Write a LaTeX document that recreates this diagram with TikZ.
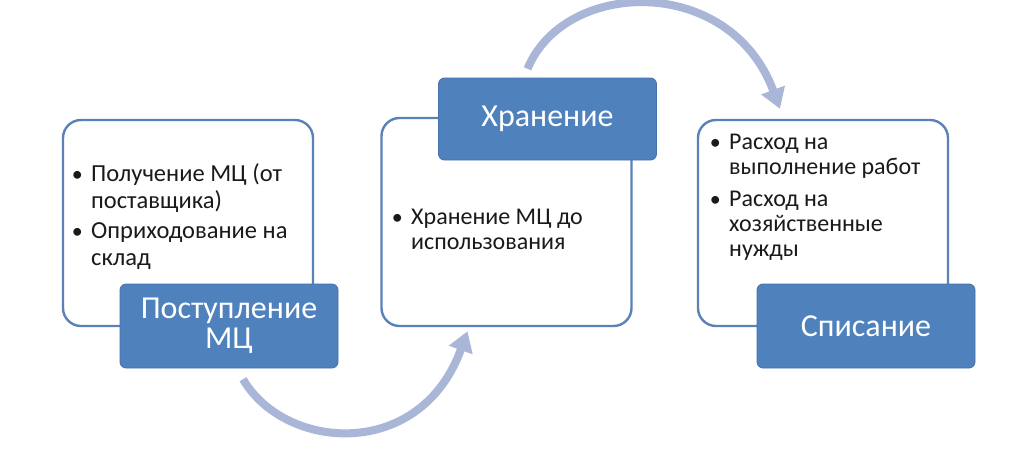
\documentclass[tikz,border=0pt]{standalone}
\usepackage{fontspec}
\setmainfont{Carlito}
\usetikzlibrary{arrows.meta,calc}
\definecolor{accent}{HTML}{4F81BD}
\definecolor{accentdark}{HTML}{4672AA}
\definecolor{framec}{HTML}{5B82B8}
\definecolor{flowc}{HTML}{A9B6D8}
\definecolor{ink}{HTML}{1A1A1A}
\begin{document}
\begin{tikzpicture}[x=1pt,y=-1pt,
  panel/.style={draw=framec, line width=2.4pt, fill=white, rounded corners=18pt,
    inner sep=0pt, minimum width=250pt, minimum height=206pt},
  tag/.style={draw=accentdark, line width=0.8pt, fill=accent, rounded corners=6pt,
    inner sep=0pt, minimum width=218pt, minimum height=84pt, text=white,
    align=center, font=\fontsize{32}{30}\selectfont},
  line/.style={anchor=base west, inner sep=0pt, text=ink, font=\fontsize{24.5}{27}\selectfont},
  sline/.style={anchor=base west, inner sep=0pt, text=ink, font=\fontsize{24}{25}\selectfont},
  bul/.style={anchor=base east, inner sep=0pt, text=ink, font=\fontsize{22}{25}\selectfont},
  flow/.style={draw=flowc, line width=8pt, -{Triangle[width=24pt,length=20pt]}}
]
\useasboundingbox (0,0) rectangle (1020,448);
\fill[white] (0,0) rectangle (1020,448);

% panels
\node[panel] (p1) at (188,223) {};
\node[panel, minimum height=208pt] (p2) at (506.5,222) {};
\node[panel] (p3) at (823,223) {};

% connectors
\coordinate (a1s) at ($(p1.south)+(55,52)$);
\coordinate (a1e) at ($(p2.south)+(-39,4)$);
\coordinate (a2s) at ($(p2.north)+(21,-48)$);
\coordinate (a2e) at ($(p3.north)+(-43,-10)$);
\draw[flow] (a1s) .. controls ($(a1s)+(42,72)$) and ($(a1e)+(-47,130)$) .. (a1e);
\draw[flow] (a2s) .. controls ($(a2s)+(37,-90)$) and ($(a2e)+(-50,-135)$) .. (a2e);

% tags
\node[tag] (g1) at (229,326) {Поступление\\МЦ};
\node[tag, minimum height=82pt] (g2) at (547.5,119) {Хранение};
\node[tag] (g3) at (866,326) {Списание};

% panel 1 text
\node[line] (t1a) at (91,181) {Получение МЦ (от};
\node[line] (t1b) at (91,208) {поставщика)};
\node[line] (t1c) at (91,238) {Оприходование на};
\node[line] (t1d) at (91,265) {склад};
\node[bul] (b1a) at ($(t1a.base west)+(-8,0)$) {•};
\node[bul] (b1b) at ($(t1c.base west)+(-8,0)$) {•};

% panel 2 text
\node[sline] (t2a) at (411,224) {Хранение МЦ до};
\node[sline] (t2b) at (411,249) {использования};
\node[bul] (b2a) at ($(t2a.base west)+(-8,0)$) {•};

% panel 3 text
\node[sline] (t3a) at (729,149) {Расход на};
\node[sline] (t3b) at (729,174) {выполнение работ};
\node[sline] (t3c) at (729,206) {Расход на};
\node[sline] (t3d) at (729,231) {хозяйственные};
\node[sline] (t3e) at (729,256) {нужды};
\node[bul] (b3a) at ($(t3a.base west)+(-8,0)$) {•};
\node[bul] (b3b) at ($(t3c.base west)+(-8,0)$) {•};
\end{tikzpicture}
\end{document}
